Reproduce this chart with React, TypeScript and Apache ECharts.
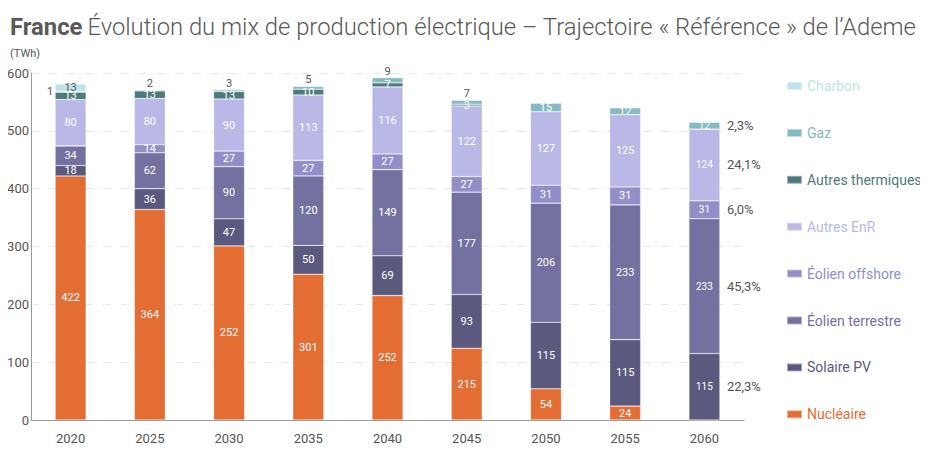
import React, { useEffect, useRef } from "react";
import * as echarts from "echarts";

const years = ["2020", "2025", "2030", "2035", "2040", "2045", "2050", "2055", "2060"];

// bar heights as drawn
const nucleaire = [422, 364, 301, 252, 215, 124, 54, 24, 0];
// labels as printed on the nuclear segments
const nucleaireLabels = [422, 364, 252, 301, 252, 215, 54, 24, 0];
const solairePV = [18, 36, 47, 50, 69, 93, 115, 115, 115];
const eolienTerrestre = [34, 62, 90, 120, 149, 177, 206, 233, 233];
const eolienOffshore = [0, 14, 27, 27, 27, 27, 31, 31, 31];
const autresEnR = [80, 80, 90, 113, 116, 122, 127, 125, 124];
const autresThermiques = [13, 13, 13, 10, 7, 3, 0, 0, 0];
const gaz = [1, 2, 3, 5, 9, 7, 15, 12, 12];
const charbon = [13, 0, 0, 0, 0, 0, 0, 0, 0];

// shares printed next to the 2060 bar
const shares2060: Record<string, string> = {
  "Gaz": "2,3%",
  "Autres EnR": "24,1%",
  "Éolien offshore": "6,0%",
  "Éolien terrestre": "45,3%",
  "Solaire PV": "22,3%",
};

const yTicks = { min: 0, max: 600, interval: 100 };

const seriesDefs = [
  { name: "Nucléaire", data: nucleaire, color: "#e46d33", text: "#e46d33", labels: nucleaireLabels },
  { name: "Solaire PV", data: solairePV, color: "#5c597f", text: "#5c597f" },
  { name: "Éolien terrestre", data: eolienTerrestre, color: "#7471a0", text: "#7471a0" },
  { name: "Éolien offshore", data: eolienOffshore, color: "#928fc8", text: "#928fc8" },
  { name: "Autres EnR", data: autresEnR, color: "#b9b8e7", text: "#b9b8e7" },
  { name: "Autres thermiques", data: autresThermiques, color: "#4f7a7b", text: "#4f7a7b" },
  { name: "Gaz", data: gaz, color: "#86bac3", text: "#86bac3" },
  { name: "Charbon", data: charbon, color: "#bde4e8", text: "#bde4e8" },
];

export default function App() {
  const ref = useRef<HTMLDivElement>(null);
  useEffect(() => {
    if (!ref.current) return;
    const chart = echarts.init(ref.current, null, { renderer: "svg" });
    const font = "Roboto";
    const last = years.length - 1;

    const series = seriesDefs.map((s, si) => {
      const below = seriesDefs.slice(0, si).reduce((acc, d) => acc + d.data[last], 0);
      const share = shares2060[s.name];
      const data = s.data.map((v, i) => {
        const item: any = { value: v };
        const lbl = s.labels ? s.labels[i] : v;
        const label: any = { formatter: v === 0 ? "" : String(lbl) };
        if (s.name === "Gaz" && v < 10) {
          if (i === 0) {
            label.position = "left";
            label.distance = 2;
          } else {
            label.position = "top";
            label.distance = 1;
          }
          label.color = "#555";
        }
        if (s.name === "Charbon") label.color = "#555";
        if (i === last) label.fontSize = 10;
        item.label = label;
        return item;
      });
      const out: any = {
        name: s.name,
        type: "bar",
        stack: "total",
        barWidth: 31,
        data,
        itemStyle: { color: s.color, borderColor: "rgba(255,255,255,0.45)", borderWidth: 0.6 },
        label: {
          show: true,
          position: "inside",
          color: "#fff",
          fontSize: 11,
          fontFamily: font,
        },
      };
      if (share) {
        out.markPoint = {
          symbol: "circle",
          symbolSize: 1,
          itemStyle: { color: "rgba(0,0,0,0)" },
          data: [{ coord: [years[last], below + s.data[last] / 2], value: share }],
          label: {
            show: true,
            position: "right",
            distance: 22,
            formatter: share,
            color: "#555",
            fontSize: 13,
            fontFamily: font,
          },
        };
      }
      return out;
    });

    const legendData = [...seriesDefs].reverse().map((s) => ({
      name: s.name,
      textStyle: { color: s.text },
    }));

    chart.setOption({
      animation: false,
      title: {
        text: "{b|France} {n|Évolution du mix de production électrique – Trajectoire « Référence » de l’Ademe}",
        left: 5,
        top: 10,
        textStyle: {
          rich: {
            b: { fontWeight: "bold", fontSize: 23.8, color: "#595959", fontFamily: font },
            n: { fontSize: 23.8, color: "#595959", fontFamily: font, fontWeight: 300 },
          },
        },
      },
      graphic: [
        {
          type: "text",
          left: 10,
          top: 48,
          style: { text: "(TWh)", fontSize: 11, fill: "#555", fontFamily: font },
        },
        {
          type: "text",
          left: 10,
          top: 450,
          style: { text: "Source : Ademe", fontSize: 11, fill: "#666", fontFamily: font },
        },
      ],
      legend: {
        orient: "vertical",
        left: 781,
        top: 73,
        icon: "rect",
        itemWidth: 15,
        itemHeight: 8,
        itemGap: 30.9,
        data: legendData,
        textStyle: { fontSize: 14, fontFamily: font, lineHeight: 16, padding: [0, 0, 0, 0] },
        selectedMode: false,
      },
      grid: { left: 31, top: 73, width: 713, bottom: 39, containLabel: false },
      xAxis: {
        type: "category",
        data: years,
        axisLine: { lineStyle: { color: "#999", width: 1 } },
        axisTick: { show: false },
        axisLabel: { color: "#555", fontSize: 13, fontFamily: font, margin: 12 },
      },
      yAxis: {
        type: "value",
        min: yTicks.min,
        max: yTicks.max,
        interval: yTicks.interval,
        axisLine: { show: true, lineStyle: { color: "#999", width: 1 } },
        axisTick: { show: false },
        axisLabel: { color: "#555", fontSize: 13, fontFamily: font, margin: 2 },
        splitLine: { lineStyle: { color: "#e8e8e8", type: [8, 10] } },
      },
      series,
    });
    return () => chart.dispose();
  }, []);
  return <div ref={ref} style={{ width: 928, height: 459, margin: -8 }} />;
}
